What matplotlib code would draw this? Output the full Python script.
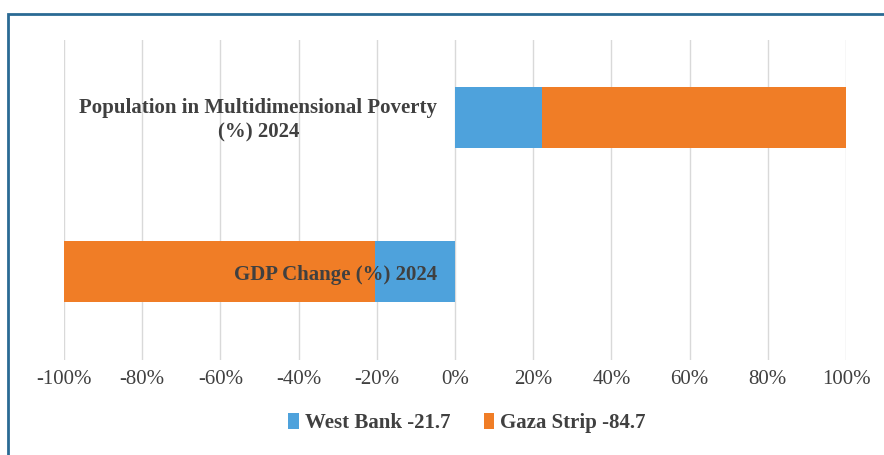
import matplotlib
matplotlib.use("Agg")
import matplotlib.pyplot as plt
from matplotlib.patches import Rectangle
from matplotlib.ticker import FuncFormatter

plt.rcParams['font.family'] = ['Liberation Serif', 'DejaVu Serif']

# data (shares of each bar)
categories = ['GDP Change (%) 2024', 'Population in Multidimensional Poverty\n(%) 2024']
west_bank = [-20.4, 22.3]
gaza_strip = [-79.6, 77.7]
legend_labels = ['West Bank -21.7', 'Gaza Strip -84.7']
xticks = [-100, -80, -60, -40, -20, 0, 20, 40, 60, 80, 100]

BLUE = '#4ea2dc'
ORANGE = '#f07d26'
TEXT = '#404040'
FS = 15

fig = plt.figure(figsize=(8.84, 4.55), dpi=100, facecolor='white')
ax = fig.add_axes([64 / 884, 1 - 360 / 455, (846 - 64) / 884, 320 / 455])

ypos = list(range(len(categories)))
h = 0.4
ax.barh(ypos, west_bank, height=h, color=BLUE, label=legend_labels[0], zorder=2)
ax.barh(ypos, gaza_strip, left=west_bank, height=h, color=ORANGE,
        label=legend_labels[1], zorder=2)

# category labels sit inside the plot, right-aligned just left of 0
for y, lab in zip(ypos, categories):
    ax.text(-4.5, y - 0.02, lab, ha='right', va='center', fontsize=FS,
            fontweight='bold', color=TEXT, multialignment='center',
            linespacing=1.3, zorder=3)

ax.set_xlim(-100, 100)
ax.set_ylim(-0.575, 1.503)
ax.set_xticks(xticks)
ax.xaxis.set_major_formatter(FuncFormatter(lambda v, p: f'{v:.0f}%'))
ax.set_yticks([])
ax.grid(axis='x', color='#d9d9d9', linewidth=1, zorder=0)
ax.tick_params(axis='x', length=0, pad=7, labelsize=FS, labelcolor=TEXT)
for s in ax.spines.values():
    s.set_visible(False)

leg = fig.legend(loc='center', bbox_to_anchor=(467 / 884, 1 - 423 / 455), ncol=2,
                 frameon=False, handlelength=0.5, handleheight=0.8,
                 handletextpad=0.3, columnspacing=1.6,
                 prop={'size': FS, 'weight': 'bold'})
for t in leg.get_texts():
    t.set_color(TEXT)

# outer frame
fig.patches.append(Rectangle((8 / 884, -0.05), 1.1, 1 - 14 / 455 + 0.05,
                             transform=fig.transFigure, fill=False,
                             edgecolor='#2a6a94', linewidth=2))

fig.savefig('out.png', dpi=100, facecolor='white')
